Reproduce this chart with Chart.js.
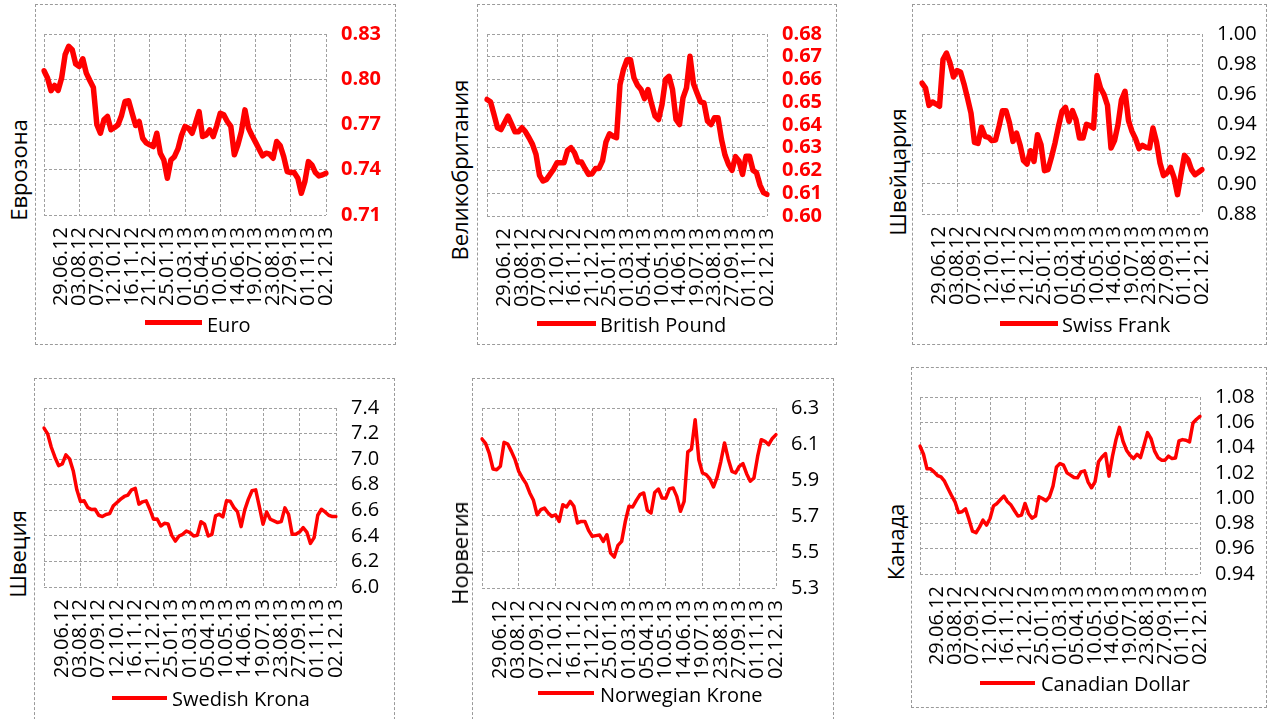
<!DOCTYPE html>
<html>
<head>
<meta charset="utf-8">
<title>Currencies vs USD</title>
<script src="https://cdn.jsdelivr.net/npm/chart.js@4.4.1/dist/chart.umd.min.js"></script>
<style>
  html, body { margin: 0; padding: 0; background: #fff; overflow: hidden; }
  #page { position: relative; width: 1268px; height: 719px; overflow: hidden; }
  .frame { position: absolute; box-sizing: border-box; border: 1px dashed #9a9a9a; }
  canvas { position: absolute; }
  .side { position: absolute; transform: translate(-50%, -50%) rotate(-90deg); font: 22px 'Open Sans', sans-serif; line-height: 22px; white-space: nowrap; color: #000; }
  .key { position: absolute; background: #ff0000; }
  .keytext { position: absolute; font: 20px 'Open Sans', sans-serif; line-height: 20px; white-space: nowrap; color: #000; }
</style>
</head>
<body>
<div id="page"></div>
<script>
// labels shown on the date axis
const tickDates = ['29.06.12', '03.08.12', '07.09.12', '12.10.12', '16.11.12', '21.12.12', '25.01.13', '01.03.13',
  '05.04.13', '10.05.13', '14.06.13', '19.07.13', '23.08.13', '27.09.13', '01.11.13', '02.12.13'];

// weekly fixings from 25.05.12, last one is 02.12.13
const weeks = [];
for (let d = Date.UTC(2012, 4, 25); weeks.length < 80; d += 7 * 864e5) {
  const dt = new Date(d);
  weeks.push(String(dt.getUTCDate()).padStart(2, '0') + '.' +
    String(dt.getUTCMonth() + 1).padStart(2, '0') + '.' + String(dt.getUTCFullYear()).slice(2));
}
weeks.push('02.12.13');

const euro = [0.8056, 0.8008, 0.7924, 0.7959, 0.7926, 0.8008, 0.8163, 0.8218, 0.8196, 0.8101,
  0.8085, 0.8136, 0.8041, 0.7992, 0.7946, 0.7698, 0.7642, 0.7731, 0.7753, 0.7665,
  0.7680, 0.7698, 0.7760, 0.7853, 0.7857, 0.7775, 0.7693, 0.7720, 0.7609, 0.7578,
  0.7565, 0.7554, 0.7642, 0.7510, 0.7465, 0.7344, 0.7465, 0.7487, 0.7538, 0.7627,
  0.7687, 0.7676, 0.7642, 0.7709, 0.7786, 0.7620, 0.7631, 0.7665, 0.7620, 0.7691,
  0.7775, 0.7764, 0.7720, 0.7687, 0.7499, 0.7565, 0.7654, 0.7797, 0.7676, 0.7627,
  0.7583, 0.7538, 0.7492, 0.7510, 0.7503, 0.7476, 0.7587, 0.7561, 0.7487, 0.7388,
  0.7381, 0.7381, 0.7344, 0.7244, 0.7321, 0.7454, 0.7432, 0.7381, 0.7359, 0.7366,
  0.7377];

const pound = [0.6512, 0.6502, 0.6446, 0.6388, 0.6380, 0.6410, 0.6439, 0.6405, 0.6370, 0.6370,
  0.6388, 0.6370, 0.6344, 0.6315, 0.6271, 0.6179, 0.6154, 0.6161, 0.6183, 0.6205,
  0.6234, 0.6234, 0.6234, 0.6288, 0.6300, 0.6278, 0.6237, 0.6237, 0.6209, 0.6183,
  0.6186, 0.6209, 0.6209, 0.6242, 0.6326, 0.6361, 0.6351, 0.6344, 0.6578, 0.6644,
  0.6687, 0.6687, 0.6607, 0.6575, 0.6556, 0.6516, 0.6556, 0.6494, 0.6439, 0.6424,
  0.6490, 0.6600, 0.6614, 0.6556, 0.6424, 0.6402, 0.6519, 0.6563, 0.6702, 0.6581,
  0.6541, 0.6502, 0.6497, 0.6417, 0.6402, 0.6432, 0.6432, 0.6337, 0.6268, 0.6227,
  0.6201, 0.6261, 0.6242, 0.6183, 0.6263, 0.6263, 0.6201, 0.6190, 0.6136, 0.6103,
  0.6095];

const franc = [0.9673, 0.9640, 0.9524, 0.9547, 0.9533, 0.9518, 0.9829, 0.9873, 0.9807, 0.9713,
  0.9756, 0.9747, 0.9667, 0.9573, 0.9473, 0.9278, 0.9271, 0.9378, 0.9318, 0.9311,
  0.9289, 0.9293, 0.9384, 0.9489, 0.9489, 0.9407, 0.9284, 0.9340, 0.9262, 0.9156,
  0.9133, 0.9222, 0.9151, 0.9329, 0.9262, 0.9089, 0.9096, 0.9180, 0.9273, 0.9384,
  0.9484, 0.9511, 0.9418, 0.9489, 0.9429, 0.9307, 0.9307, 0.9398, 0.9389, 0.9373,
  0.9724, 0.9640, 0.9596, 0.9524, 0.9240, 0.9289, 0.9396, 0.9562, 0.9618, 0.9422,
  0.9351, 0.9302, 0.9236, 0.9258, 0.9244, 0.9240, 0.9373, 0.9280, 0.9140, 0.9056,
  0.9073, 0.9111, 0.9044, 0.8929, 0.9062, 0.9191, 0.9162, 0.9096, 0.9062, 0.9078,
  0.9096];

const krona = [7.243, 7.198, 7.093, 7.015, 6.949, 6.962, 7.033, 7.002, 6.910, 6.760,
  6.669, 6.674, 6.622, 6.606, 6.608, 6.561, 6.551, 6.567, 6.574, 6.635,
  6.661, 6.687, 6.708, 6.719, 6.760, 6.771, 6.648, 6.666, 6.674, 6.608,
  6.530, 6.532, 6.477, 6.498, 6.493, 6.404, 6.359, 6.399, 6.412, 6.438,
  6.425, 6.399, 6.404, 6.511, 6.491, 6.399, 6.412, 6.556, 6.569, 6.548,
  6.674, 6.671, 6.622, 6.590, 6.472, 6.603, 6.687, 6.753, 6.760, 6.629,
  6.491, 6.587, 6.530, 6.517, 6.504, 6.511, 6.619, 6.569, 6.412, 6.412,
  6.430, 6.464, 6.430, 6.341, 6.386, 6.561, 6.608, 6.587, 6.561, 6.551,
  6.551];

const krone = [6.128, 6.102, 6.046, 5.961, 5.957, 5.976, 6.109, 6.100, 6.059, 6.013,
  5.948, 5.911, 5.880, 5.828, 5.787, 5.707, 5.735, 5.744, 5.717, 5.698,
  5.707, 5.670, 5.763, 5.750, 5.781, 5.754, 5.661, 5.670, 5.670, 5.620,
  5.587, 5.591, 5.594, 5.559, 5.596, 5.494, 5.472, 5.537, 5.559, 5.670,
  5.754, 5.750, 5.787, 5.819, 5.828, 5.731, 5.717, 5.831, 5.850, 5.800,
  5.798, 5.850, 5.856, 5.809, 5.726, 5.781, 6.056, 6.072, 6.235, 6.013,
  5.939, 5.930, 5.906, 5.861, 5.917, 6.004, 6.106, 6.017, 5.948, 5.939,
  5.976, 5.991, 5.935, 5.893, 5.911, 6.031, 6.124, 6.115, 6.096, 6.131,
  6.152];

const cad = [1.0411, 1.0347, 1.0232, 1.0232, 1.0208, 1.0179, 1.0168, 1.0134, 1.0076, 1.0021,
  0.9971, 0.9887, 0.9892, 0.9916, 0.9832, 0.9739, 0.9726, 0.9771, 0.9826, 0.9787,
  0.9839, 0.9939, 0.9958, 0.9989, 1.0016, 0.9971, 0.9945, 0.9900, 0.9858, 0.9866,
  0.9958, 0.9879, 0.9842, 0.9858, 1.0011, 0.9997, 0.9979, 1.0011, 1.0095, 1.0247,
  1.0274, 1.0261, 1.0200, 1.0182, 1.0163, 1.0161, 1.0208, 1.0216, 1.0129, 1.0082,
  1.0129, 1.0287, 1.0326, 1.0353, 1.0174, 1.0332, 1.0463, 1.0560, 1.0450, 1.0379,
  1.0339, 1.0313, 1.0347, 1.0321, 1.0418, 1.0518, 1.0471, 1.0374, 1.0321, 1.0300,
  1.0300, 1.0332, 1.0313, 1.0318, 1.0453, 1.0463, 1.0458, 1.0445, 1.0595, 1.0624,
  1.0647];

const red = '#ff0000';
const gridGrey = '#a0a0a0';
const fontFamily = "'Open Sans', sans-serif";

// one entry per small chart: box = dashed frame, plot = grid area, key = legend line + text
const panels = [
  { name: 'Euro', side: 'Еврозона', data: euro, min: 0.71, max: 0.83, step: 0.03, dec: 2, bold: true,
    box: [35, 4, 396, 345], plot: [44, 34, 326, 215], sideAt: [18, 170], key: [145, 202, 322, 207, 333], lw: 5.5, kw: 5 },
  { name: 'British Pound', side: 'Великобритания', data: pound, min: 0.60, max: 0.68, step: 0.01, dec: 2, bold: true,
    box: [477, 4, 837, 345], plot: [487, 34, 767, 216], sideAt: [459, 170], key: [537, 596, 323, 600, 333], lw: 5.5, kw: 5 },
  { name: 'Swiss Frank', side: 'Швейцария', data: franc, min: 0.88, max: 1.00, step: 0.02, dec: 2, bold: false,
    box: [912, 4, 1267, 345], plot: [922, 34, 1202, 214], sideAt: [897, 172], key: [1000, 1058, 323, 1062, 333], lw: 5.5, kw: 5 },
  { name: 'Swedish Krona', side: 'Швеция', data: krona, min: 6.0, max: 7.4, step: 0.2, dec: 1, bold: false,
    box: [34, 378, 395, 740], plot: [44, 408, 336, 587], sideAt: [17, 554], key: [112, 167, 698, 172, 707], lw: 3.5, kw: 4 },
  { name: 'Norwegian Krone', side: 'Норвегия', data: krone, min: 5.3, max: 6.3, step: 0.2, dec: 1, bold: false,
    box: [472, 378, 834, 740], plot: [482, 408, 776, 588], sideAt: [459, 553], key: [538, 594, 693, 600, 703], lw: 3.5, kw: 4 },
  { name: 'Canadian Dollar', side: 'Канада', data: cad, min: 0.94, max: 1.08, step: 0.02, dec: 2, bold: false,
    box: [911, 367, 1267, 708], plot: [920, 397, 1200, 574], sideAt: [895, 542], key: [980, 1035, 683, 1041, 692], lw: 3.5, kw: 4 }
];

const page = document.getElementById('page');

function put(tag, cls, css, text) {
  const el = document.createElement(tag);
  if (cls) el.className = cls;
  Object.assign(el.style, css);
  if (text) el.textContent = text;
  page.appendChild(el);
  return el;
}

panels.forEach(p => {
  const [bl, bt, br, bb] = p.box;
  const [pl, pt, pr, pb] = p.plot;

  put('div', 'frame', { left: bl + 'px', top: bt + 'px', width: (br - bl) + 'px', height: (bb - bt) + 'px' });
  const cv = put('canvas', '', { left: bl + 'px', top: bt + 'px' });
  cv.width = br - bl;
  cv.height = bb - bt;

  put('div', 'side', { left: p.sideAt[0] + 'px', top: p.sideAt[1] + 'px' }, p.side);
  const [k1, k2, ky, tx, tb] = p.key;
  put('div', 'key', { left: k1 + 'px', top: (ky - p.kw / 2) + 'px', width: (k2 - k1) + 'px', height: p.kw + 'px' });
  put('div', 'keytext', { left: tx + 'px', top: (tb - 17.8) + 'px' }, p.name);

  new Chart(cv, {
    type: 'line',
    data: {
      labels: weeks,
      datasets: [{
        label: p.name,
        data: p.data,
        borderColor: red,
        backgroundColor: red,
        borderWidth: p.lw,
        pointRadius: 0,
        tension: 0,
        borderJoinStyle: 'round',
        borderCapStyle: 'round'
      }]
    },
    options: {
      responsive: false,
      animation: false,
      devicePixelRatio: 1,
      layout: { padding: { left: pl - bl, top: pt - bt, right: 0, bottom: 0 } },
      plugins: { legend: { display: false }, tooltip: { enabled: false } },
      scales: {
        x: {
          grid: {
            color: c => (c.index % 10 === 0 ? gridGrey : 'transparent'),
            tickColor: 'transparent',
            tickLength: 11
          },
          border: { display: false, dash: [3, 2] },
          ticks: {
            autoSkip: false,
            minRotation: 90,
            maxRotation: 90,
            padding: 1,
            color: '#000',
            font: { family: fontFamily, size: 20 },
            callback: (v, i) => (i > 0 && tickDates.includes(weeks[i]) ? weeks[i] : '')
          },
          afterFit: s => { s.height = bb - pb; }
        },
        y: {
          position: 'right',
          min: p.min,
          max: p.max,
          ticks: {
            stepSize: p.step,
            autoSkip: false,
            padding: 15,
            color: p.bold ? red : '#000',
            font: { family: fontFamily, size: 20, weight: p.bold ? 'bold' : 'normal', lineHeight: 1 },
            callback: v => v.toFixed(p.dec)
          },
          grid: { color: gridGrey, drawTicks: false },
          border: { display: false, dash: [3, 2] },
          afterFit: s => { s.width = br - pr; }
        }
      }
    }
  });
});
</script>
</body>
</html>
